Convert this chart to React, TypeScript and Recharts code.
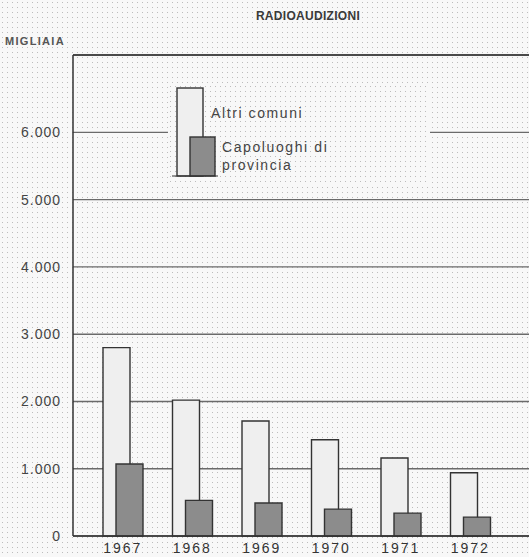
import { BarChart, Bar, XAxis, YAxis, CartesianGrid, ReferenceLine } from 'recharts';

const YEARS = ['1967', '1968', '1969', '1970', '1971', '1972'];
const ALTRI_COMUNI = [2800, 2020, 1710, 1430, 1160, 940];
const CAPOLUOGHI = [1070, 530, 490, 400, 340, 280];
const Y_TICKS = [0, 1000, 2000, 3000, 4000, 5000, 6000];

const LIGHT = '#efefef';
const DARK = '#8c8c8c';
const INK = '#333';

const data = YEARS.map((year, i) => ({
  year,
  altri: ALTRI_COMUNI[i],
  capoluoghi: CAPOLUOGHI[i],
}));

const fmt = (v: number) => (v === 0 ? '0' : v.toLocaleString('it-IT').replace(/\s/g, '.'));

// halftone-ish paper background
const paper = {
  backgroundColor: '#f8f8f8',
  backgroundImage: 'radial-gradient(#bcbcbc 0.8px, transparent 1px)',
  backgroundSize: '5px 5px',
};

// legend drawn as a little "bar" key, like the printed original
function LegendBox() {
  return (
    <div style={{ position: 'absolute', left: 168, top: 84, width: 262, height: 100, ...paper }}>
      <svg width={262} height={100}>
        <rect x={9} y={4} width={26} height={88} fill={LIGHT} stroke={INK} strokeWidth={1.4} />
        <rect x={22} y={53} width={25} height={39} fill={DARK} stroke={INK} strokeWidth={1.4} />
        <line x1={4} y1={92} x2={50} y2={92} stroke={INK} strokeWidth={1} />
        <text x={43} y={34} fontSize={14} fill="#444" letterSpacing={1.6}>Altri comuni</text>
        <text x={54} y={68} fontSize={14} fill="#444" letterSpacing={1.6}>Capoluoghi di</text>
        <text x={54} y={86} fontSize={14} fill="#444" letterSpacing={1.6}>provincia</text>
      </svg>
    </div>
  );
}

export default function App() {
  return (
    <div
      style={{
        position: 'absolute',
        left: 0,
        top: 0,
        width: 529,
        height: 557,
        fontFamily: '"Liberation Sans", Arial, sans-serif',
        ...paper,
      }}
    >
      <div
        style={{
          position: 'absolute',
          top: 9,
          left: 0,
          width: 616,
          textAlign: 'center',
          fontSize: 12,
          fontWeight: 'bold',
          letterSpacing: 0.3,
          color: '#3a3a3a',
        }}
      >
        RADIOAUDIZIONI
      </div>
      <div
        style={{
          position: 'absolute',
          top: 35,
          left: 5,
          fontSize: 11,
          fontWeight: 'bold',
          letterSpacing: 1.3,
          color: '#555',
        }}
      >
        MIGLIAIA
      </div>
      <BarChart
        width={529}
        height={557}
        data={data}
        margin={{ top: 55, right: 0, bottom: 0, left: 0 }}
        barSize={27}
        barGap={-14}
        barCategoryGap={0}
        style={{ position: 'absolute', left: 0, top: 0 }}
      >
        <CartesianGrid vertical={false} stroke="#6a6a6a" strokeWidth={1.4} />
        <XAxis
          dataKey="year"
          height={21}
          padding={{ left: 15, right: 24 }}
          axisLine={{ stroke: INK, strokeWidth: 1.5 }}
          tickLine={false}
          tick={{ fontSize: 14, fill: '#333', letterSpacing: 2 }}
          tickMargin={1}
        />
        <YAxis
          width={73}
          domain={[0, 7150]}
          ticks={Y_TICKS}
          tickFormatter={fmt}
          axisLine={{ stroke: INK, strokeWidth: 1.5 }}
          tickLine={false}
          tick={{ fontSize: 14, fill: '#444', letterSpacing: 1 }}
          tickMargin={6}
        />
        <ReferenceLine y={7150} stroke={INK} strokeWidth={1.5} />
        <Bar dataKey="altri" name="Altri comuni" fill={LIGHT} stroke={INK} strokeWidth={1.4} isAnimationActive={false} />
        <Bar dataKey="capoluoghi" name="Capoluoghi di provincia" fill={DARK} stroke={INK} strokeWidth={1.4} isAnimationActive={false} />
      </BarChart>
      <LegendBox />
    </div>
  );
}
